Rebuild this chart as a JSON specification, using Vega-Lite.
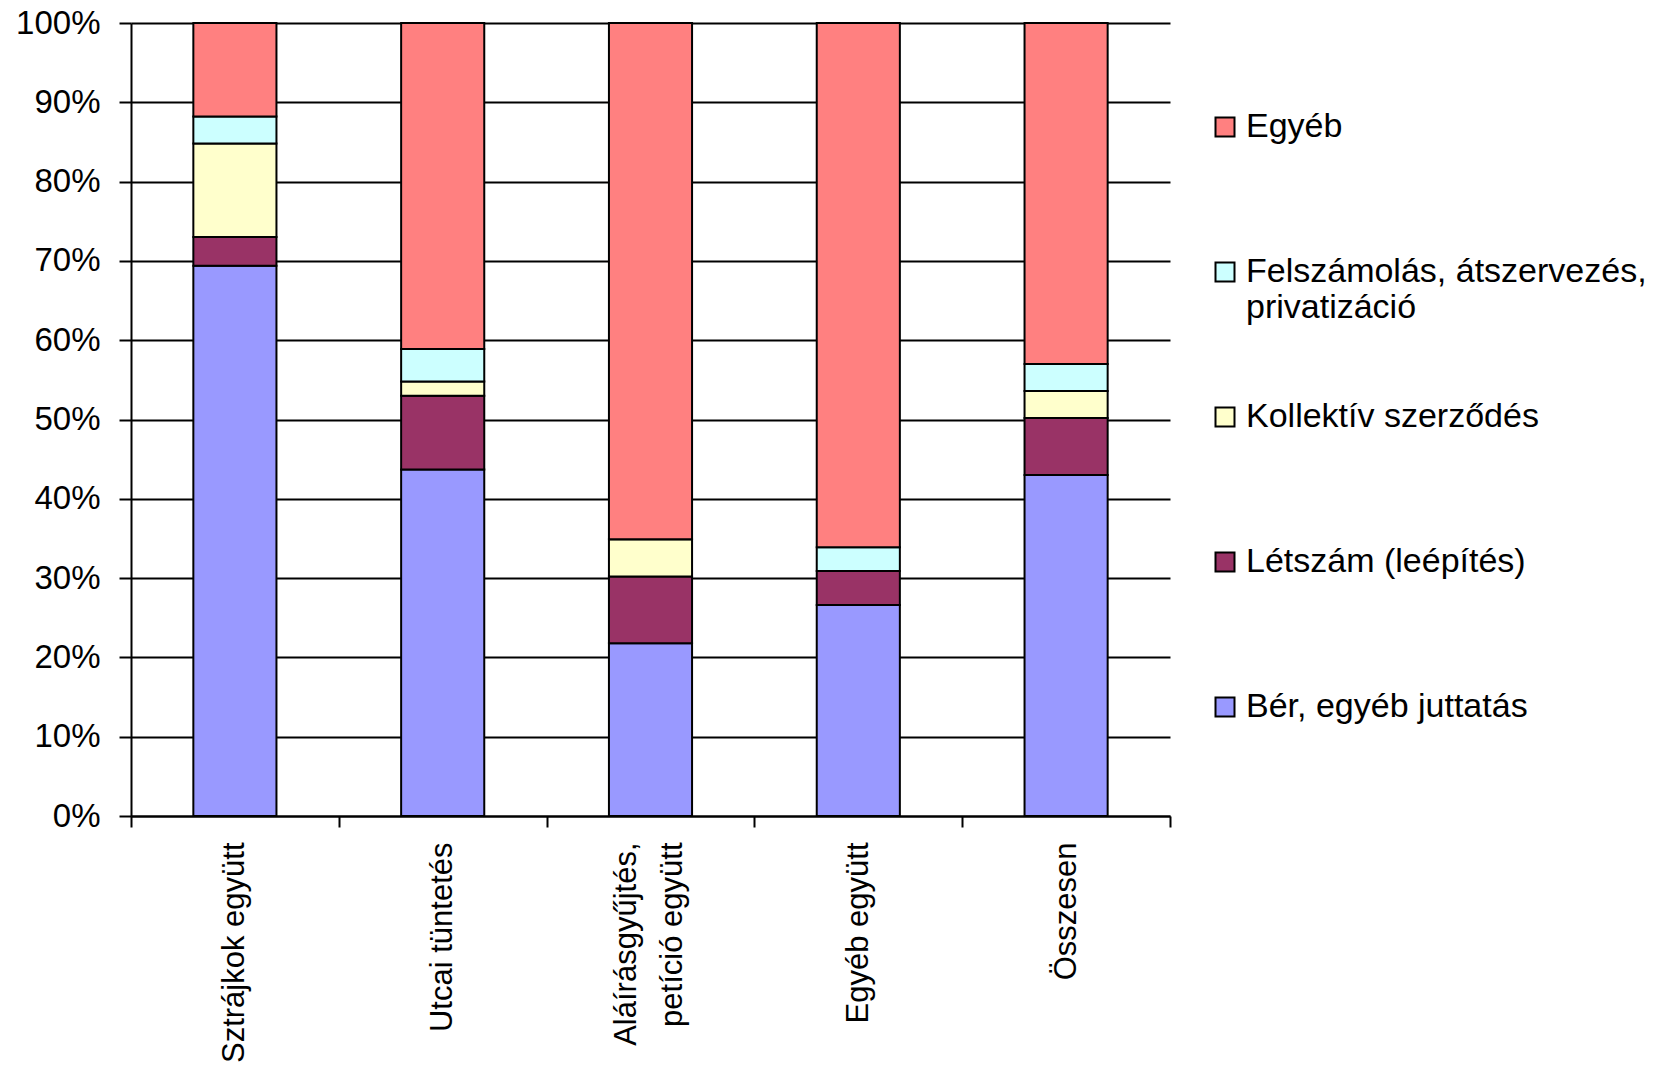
{
  "$schema": "https://vega.github.io/schema/vega-lite/v6.json",
  "width": 1039,
  "height": 793,
  "autosize": {"type": "none"},
  "padding": {"left": 131, "top": 23, "right": 502, "bottom": 249},
  "background": "white",
  "config": {"view": {"stroke": null}, "font": "Liberation Sans"},
  "data": {
    "values": [
      {"tipus": "Sztrájkok együtt", "ok": "Bér, egyéb juttatás", "sorrend": 1, "ertek": 69.4},
      {"tipus": "Sztrájkok együtt", "ok": "Létszám (leépítés)", "sorrend": 2, "ertek": 3.6},
      {"tipus": "Sztrájkok együtt", "ok": "Kollektív szerződés", "sorrend": 3, "ertek": 11.8},
      {"tipus": "Sztrájkok együtt", "ok": "Felszámolás, átszervezés, privatizáció", "sorrend": 4, "ertek": 3.4},
      {"tipus": "Sztrájkok együtt", "ok": "Egyéb", "sorrend": 5, "ertek": 11.8},
      {"tipus": "Utcai tüntetés", "ok": "Bér, egyéb juttatás", "sorrend": 1, "ertek": 43.7},
      {"tipus": "Utcai tüntetés", "ok": "Létszám (leépítés)", "sorrend": 2, "ertek": 9.3},
      {"tipus": "Utcai tüntetés", "ok": "Kollektív szerződés", "sorrend": 3, "ertek": 1.8},
      {"tipus": "Utcai tüntetés", "ok": "Felszámolás, átszervezés, privatizáció", "sorrend": 4, "ertek": 4.1},
      {"tipus": "Utcai tüntetés", "ok": "Egyéb", "sorrend": 5, "ertek": 41.1},
      {"tipus": "Aláírásgyűjtés, petíció együtt", "ok": "Bér, egyéb juttatás", "sorrend": 1, "ertek": 21.8},
      {"tipus": "Aláírásgyűjtés, petíció együtt", "ok": "Létszám (leépítés)", "sorrend": 2, "ertek": 8.4},
      {"tipus": "Aláírásgyűjtés, petíció együtt", "ok": "Kollektív szerződés", "sorrend": 3, "ertek": 4.7},
      {"tipus": "Aláírásgyűjtés, petíció együtt", "ok": "Felszámolás, átszervezés, privatizáció", "sorrend": 4, "ertek": 0},
      {"tipus": "Aláírásgyűjtés, petíció együtt", "ok": "Egyéb", "sorrend": 5, "ertek": 65.1},
      {"tipus": "Egyéb együtt", "ok": "Bér, egyéb juttatás", "sorrend": 1, "ertek": 26.6},
      {"tipus": "Egyéb együtt", "ok": "Létszám (leépítés)", "sorrend": 2, "ertek": 4.3},
      {"tipus": "Egyéb együtt", "ok": "Kollektív szerződés", "sorrend": 3, "ertek": 0},
      {"tipus": "Egyéb együtt", "ok": "Felszámolás, átszervezés, privatizáció", "sorrend": 4, "ertek": 3.0},
      {"tipus": "Egyéb együtt", "ok": "Egyéb", "sorrend": 5, "ertek": 66.1},
      {"tipus": "Összesen", "ok": "Bér, egyéb juttatás", "sorrend": 1, "ertek": 43.0},
      {"tipus": "Összesen", "ok": "Létszám (leépítés)", "sorrend": 2, "ertek": 7.2},
      {"tipus": "Összesen", "ok": "Kollektív szerződés", "sorrend": 3, "ertek": 3.4},
      {"tipus": "Összesen", "ok": "Felszámolás, átszervezés, privatizáció", "sorrend": 4, "ertek": 3.4},
      {"tipus": "Összesen", "ok": "Egyéb", "sorrend": 5, "ertek": 43.0}
    ]
  },
  "mark": {"type": "bar", "stroke": "black", "strokeWidth": 2, "width": {"band": 0.4}},
  "encoding": {
    "x": {
      "field": "tipus",
      "type": "nominal",
      "sort": ["Sztrájkok együtt", "Utcai tüntetés", "Aláírásgyűjtés, petíció együtt", "Egyéb együtt", "Összesen"],
      "scale": {"paddingInner": 0, "paddingOuter": 0},
      "axis": {
        "title": null,
        "labelAngle": -90,
        "labelFontSize": 31,
        "labelColor": "black",
        "labelPadding": 15,
        "labelLimit": 400,
        "labelLineHeight": 46,
        "labelExpr": "datum.label == 'Aláírásgyűjtés, petíció együtt' ? ['Aláírásgyűjtés,', 'petíció együtt'] : datum.label",
        "labelOffset": {"condition": {"test": "datum.value == 'Aláírásgyűjtés, petíció együtt'", "value": -24}, "value": 0},
        "tickBand": "extent",
        "tickSize": 11,
        "tickWidth": 2,
        "tickColor": "black",
        "domainColor": "black",
        "domainWidth": 2,
        "grid": false
      }
    },
    "y": {
      "field": "ertek",
      "type": "quantitative",
      "stack": "normalize",
      "scale": {"domain": [0, 1]},
      "axis": {
        "title": null,
        "values": [0, 0.1, 0.2, 0.3, 0.4, 0.5, 0.6, 0.7, 0.8, 0.9, 1],
        "format": ".0%",
        "labelFontSize": 33,
        "labelColor": "black",
        "labelPadding": 19,
        "tickSize": 12,
        "tickWidth": 2,
        "tickColor": "black",
        "domainColor": "black",
        "domainWidth": 2,
        "grid": true,
        "gridColor": "black",
        "gridWidth": 2,
        "gridOpacity": 1
      }
    },
    "order": {"field": "sorrend", "type": "quantitative", "sort": "ascending"},
    "color": {
      "field": "ok",
      "type": "nominal",
      "scale": {
        "domain": ["Egyéb", "Felszámolás, átszervezés, privatizáció", "Kollektív szerződés", "Létszám (leépítés)", "Bér, egyéb juttatás"],
        "range": ["#FF8080", "#CCFFFF", "#FFFFCC", "#993366", "#9999FF"]
      },
      "legend": {
        "title": null,
        "orient": "none",
        "legendX": 1077,
        "legendY": 87,
        "padding": 0,
        "gridAlign": "all",
        "symbolType": "square",
        "symbolSize": 361,
        "symbolStrokeColor": "black",
        "symbolStrokeWidth": 2,
        "symbolOpacity": 1,
        "labelFontSize": 34,
        "labelColor": "black",
        "labelOffset": 4,
        "labelLimit": 520,
        "labelLineHeight": 38,
        "rowPadding": 75,
        "labelExpr": "datum.label == 'Felszámolás, átszervezés, privatizáció' ? ['Felszámolás, átszervezés,', 'privatizáció'] : datum.label"
      }
    }
  }
}
